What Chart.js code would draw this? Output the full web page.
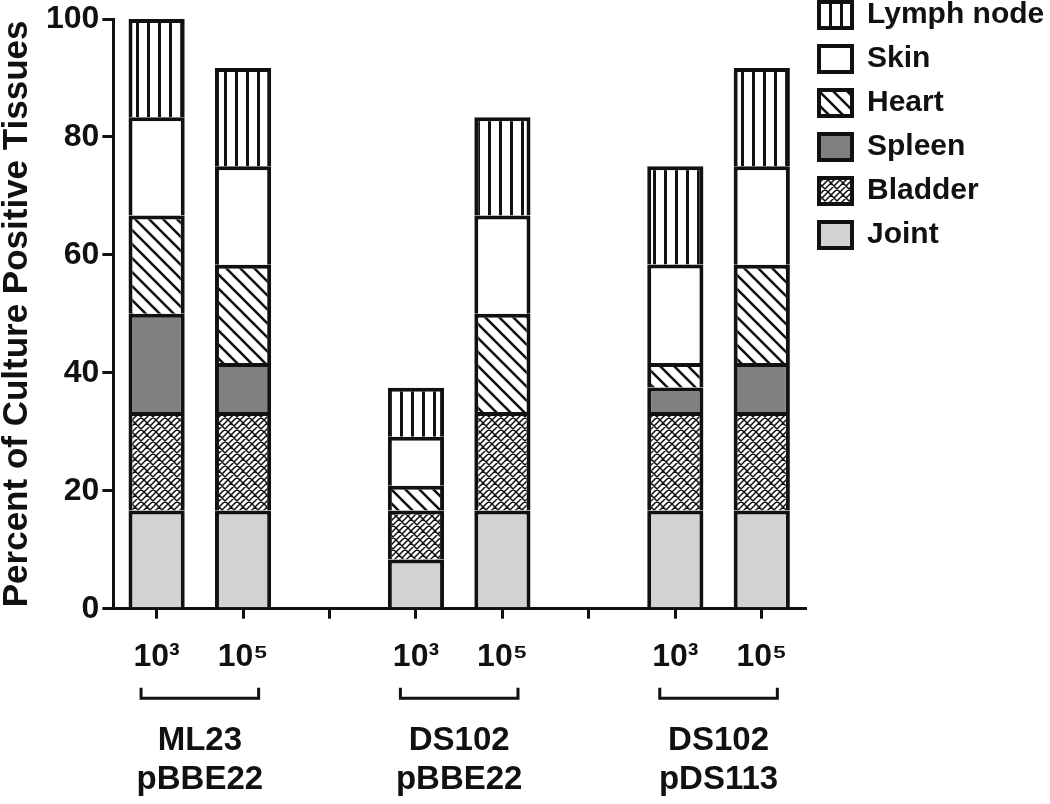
<!DOCTYPE html>
<html>
<head>
<meta charset="utf-8">
<title>Percent of Culture Positive Tissues</title>
<script src="https://cdn.jsdelivr.net/npm/chart.js"></script>
<style>
  html, body { margin: 0; padding: 0; background: #fff; }
  #wrap { width: 1050px; height: 804px; position: relative; }
</style>
</head>
<body>
<div id="wrap"><canvas id="tissueChart"></canvas></div>
<script>
// dose labels, one slot per bar; empty slots separate the strain groups
const categories = ["10³", "10⁵", "", "10³", "10⁵", "", "10³", "10⁵"];

// percent of tissues per site (stacked bottom to top)
const joint = [16.67, 16.67, null, 8.33, 16.67, null, 16.67, 16.67];
const bladder = [16.67, 16.67, null, 8.33, 16.67, null, 16.67, 16.67];
const spleen = [16.67, 8.33, null, 0, 0, null, 4.17, 8.33];
const heart = [16.67, 16.67, null, 4.17, 16.67, null, 4.17, 16.67];
const skin = [16.67, 16.67, null, 8.33, 16.67, null, 16.67, 16.67];
const lymphNode = [16.65, 16.67, null, 8.33, 16.67, null, 16.67, 16.67];

// strain / plasmid groups and the bar slots they cover
const groupNames = [["ML23", "pBBE22"], ["DS102", "pBBE22"], ["DS102", "pDS113"]];
const groupSlots = [[0, 1], [3, 4], [6, 7]];

const yTicks = [0, 20, 40, 60, 80, 100];

const INK = "#111";
const FONT = "'Liberation Sans', Arial, 'DejaVu Sans', sans-serif";

// group axis: a non-offset category axis with one label per slot edge,
// so label i sits between bar slots i-1 and i
const groupLabels = new Array(categories.length + 1).fill("");
groupSlots.forEach(([a, b], i) => {
	groupLabels[(a + b + 1) / 2] = groupNames[i];
});

function makePattern(size, paint) {
	const c = document.createElement("canvas");
	c.width = size;
	c.height = size;
	const g = c.getContext("2d");
	g.fillStyle = "#fff";
	g.fillRect(0, 0, size, size);
	g.strokeStyle = INK;
	g.fillStyle = INK;
	paint(g, size);
	return g.createPattern(c, "repeat");
}

const verticalStripes = makePattern(11, (g, s) => {
	g.fillRect(4, 0, 3, s);
});

const backDiagonal = makePattern(14, (g, s) => {
	g.lineWidth = 2.6;
	g.beginPath();
	for (const d of [-s, 0, s]) {
		g.moveTo(d - 2, -2);
		g.lineTo(d + s + 2, s + 2);
	}
	g.stroke();
});

const brick = makePattern(12, (g, s) => {
	g.lineWidth = 1.5;
	g.beginPath();
	for (let d = 0; d <= 2 * s; d += 6) {
		g.moveTo(d + 2, -2);
		g.lineTo(d - s - 2, s + 2);
	}
	for (const d of [-s, 0, s]) {
		g.moveTo(d - 2, -2);
		g.lineTo(d + s + 2, s + 2);
	}
	g.stroke();
});

function series(label, data, fill) {
	return {
		label,
		data,
		xAxisID: "x",
		backgroundColor: fill,
		borderColor: INK,
		borderWidth: 4,
		barPercentage: 0.65,
		categoryPercentage: 1,
	};
}

const bracketPlugin = {
	id: "groupBrackets",
	afterDraw(chart) {
		const xs = chart.scales.x;
		const base = chart.chartArea.bottom;
		const slot = xs.getPixelForValue(1) - xs.getPixelForValue(0);
		const ctx = chart.ctx;
		ctx.save();
		ctx.strokeStyle = INK;
		ctx.lineWidth = 3;
		for (const [a, b] of groupSlots) {
			const mid = (xs.getPixelForValue(a) + xs.getPixelForValue(b)) / 2;
			const x0 = mid - 0.68 * slot;
			const x1 = mid + 0.68 * slot;
			ctx.beginPath();
			ctx.moveTo(x0, base + 79);
			ctx.lineTo(x0, base + 89.5);
			ctx.lineTo(x1, base + 89.5);
			ctx.lineTo(x1, base + 79);
			ctx.stroke();
		}
		ctx.restore();
	},
};

new Chart(document.getElementById("tissueChart"), {
	type: "bar",
	data: {
		labels: categories,
		datasets: [
			series("Joint", joint, "#d2d2d2"),
			series("Bladder", bladder, brick),
			series("Spleen", spleen, "#808080"),
			series("Heart", heart, backDiagonal),
			series("Skin", skin, "#ffffff"),
			series("Lymph node", lymphNode, verticalStripes),
		],
	},
	options: {
		responsive: true,
		maintainAspectRatio: false,
		animation: false,
		devicePixelRatio: 1,
		layout: { padding: { top: -14, bottom: -22, left: 0, right: 0 } },
		scales: {
			x: {
				stacked: true,
				weight: 0,
				grid: {
					display: true,
					drawOnChartArea: false,
					drawTicks: true,
					tickLength: 10,
					offset: false,
					color: INK,
					lineWidth: 3,
				},
				border: { display: true, color: INK, width: 3 },
				ticks: {
					color: INK,
					font: { family: FONT, size: 32, weight: "bold", lineHeight: 1.2 },
					padding: 19,
					maxRotation: 0,
					autoSkip: false,
				},
			},
			groups: {
				type: "category",
				position: "bottom",
				weight: 1,
				labels: groupLabels,
				offset: false,
				grid: { display: false, drawTicks: false },
				border: { display: false },
				ticks: {
					color: INK,
					font: { family: FONT, size: 33, weight: "bold", lineHeight: 1.165 },
					padding: 27,
					maxRotation: 0,
					autoSkip: false,
				},
			},
			y: {
				stacked: true,
				min: 0,
				max: 100,
				afterBuildTicks(scale) {
					scale.ticks = yTicks.map((value) => ({ value }));
				},
				grid: {
					display: true,
					drawOnChartArea: false,
					drawTicks: true,
					tickLength: 11,
					color: INK,
					lineWidth: 3,
				},
				border: { display: true, color: INK, width: 3 },
				ticks: {
					color: INK,
					font: { family: FONT, size: 32, weight: "bold", lineHeight: 1 },
					padding: 3,
				},
				title: {
					display: true,
					text: "Percent of Culture Positive Tissues",
					color: INK,
					font: { family: FONT, size: 35, weight: "bold", lineHeight: 1 },
					padding: { top: 0, bottom: 8 },
				},
			},
		},
		plugins: {
			legend: {
				position: "right",
				align: "start",
				reverse: true,
				maxWidth: 245,
				labels: {
					color: INK,
					boxWidth: 33,
					boxHeight: 26,
					padding: 14,
					font: { family: FONT, size: 30, weight: "bold" },
				},
			},
			tooltip: { enabled: false },
		},
	},
	plugins: [bracketPlugin],
});
</script>
</body>
</html>
